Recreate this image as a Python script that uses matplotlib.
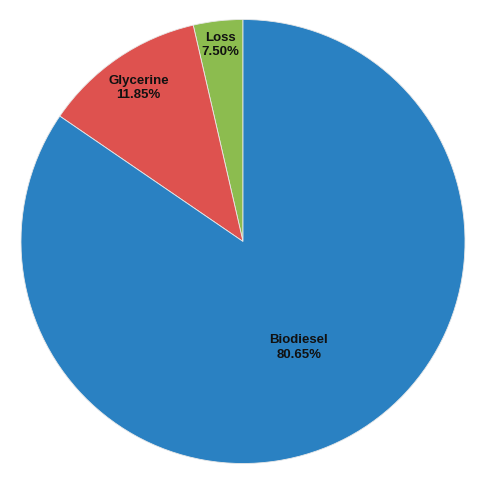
import matplotlib
matplotlib.use("Agg")
import matplotlib.pyplot as plt
import numpy as np

# Slice sizes as drawn, in drawing order (counter-clockwise from 12 o'clock)
categories = ["Loss", "Glycerine", "Biodiesel"]
slice_values = [3.60, 11.85, 84.55]
label_texts = ["7.50%", "11.85%", "80.65%"]
colors = ["#8CBC4F", "#DE524F", "#2A81C2"]
label_radius = [0.89, 0.835, 0.54]

plt.rcParams['font.family'] = ['Liberation Sans', 'DejaVu Sans']

W, H = 486, 479
fig = plt.figure(figsize=(W / 100, H / 100), dpi=100)
R = 222
cx, cy = 243, 479 - 241.5
ax = fig.add_axes([(cx - R) / W, (cy - R) / H, 2 * R / W, 2 * R / H])

wedges, _ = ax.pie(slice_values, colors=colors, startangle=90, counterclock=True,
                   radius=1.0, wedgeprops=dict(edgecolor="#E8E8E8", linewidth=0.6))
ax.set_xlim(-1, 1)
ax.set_ylim(-1, 1)
ax.axis("off")

for w, name, pct, r in zip(wedges, categories, label_texts, label_radius):
    mid = np.deg2rad((w.theta1 + w.theta2) / 2)
    ax.text(r * np.cos(mid), r * np.sin(mid), f"{name}\n{pct}", ha="center", va="center",
            fontsize=9.5, fontweight="bold", color="#111111", linespacing=1.25)

fig.savefig("out.png", dpi=100)
